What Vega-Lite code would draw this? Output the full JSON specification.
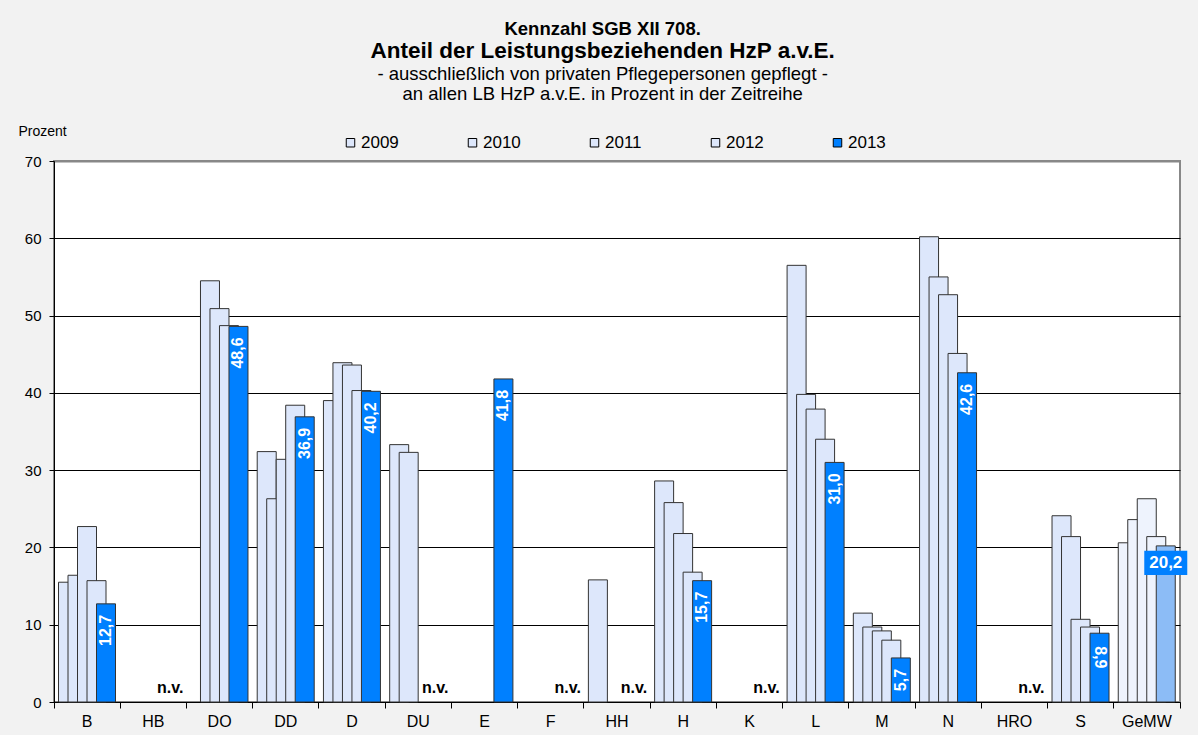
{
  "$schema": "https://vega.github.io/schema/vega-lite/v6.json",
  "background": "#f2f2f2",
  "padding": {"left": 17, "top": 19, "right": 10, "bottom": 5},
  "config": {
    "locale": {"number": {"decimal": ",", "thousands": ".", "grouping": [3], "currency": ["", " €"]}},
    "font": "Liberation Sans",
    "view": {"stroke": null}
  },
  "title": {"text": "Kennzahl SGB XII 708.", "fontSize": 18.5, "fontWeight": "bold", "anchor": "middle", "frame": "bounds", "offset": 1, "color": "black"},
  "vconcat": [
    {
      "width": 1126,
      "height": 541,
      "title": {
        "text": "Anteil der Leistungsbeziehenden HzP a.v.E.",
        "subtitle": ["- ausschließlich von privaten Pflegepersonen gepflegt -", "an allen LB HzP a.v.E. in Prozent in der Zeitreihe"],
        "fontSize": 22.5, "fontWeight": "bold", "subtitleFontSize": 18.5, "subtitleLineHeight": 20, "subtitlePadding": 2,
        "anchor": "middle", "frame": "bounds", "offset": 21, "color": "black", "subtitleColor": "black"
      },
      "view": {"fill": "white", "stroke": "#888888", "strokeWidth": 2},
      "data": {"values": [
        {"region": "B", "year": "2009", "value": 15.5},
        {"region": "B", "year": "2010", "value": 16.4},
        {"region": "B", "year": "2011", "value": 22.7},
        {"region": "B", "year": "2012", "value": 15.7},
        {"region": "B", "year": "2013", "value": 12.7},
        {"region": "HB", "year": "2013", "value": null},
        {"region": "DO", "year": "2010", "value": 54.5},
        {"region": "DO", "year": "2011", "value": 50.9},
        {"region": "DO", "year": "2012", "value": 48.7},
        {"region": "DO", "year": "2013", "value": 48.6},
        {"region": "DD", "year": "2009", "value": 32.4},
        {"region": "DD", "year": "2010", "value": 26.3},
        {"region": "DD", "year": "2011", "value": 31.4},
        {"region": "DD", "year": "2012", "value": 38.4},
        {"region": "DD", "year": "2013", "value": 36.9},
        {"region": "D", "year": "2009", "value": 39.0},
        {"region": "D", "year": "2010", "value": 43.9},
        {"region": "D", "year": "2011", "value": 43.6},
        {"region": "D", "year": "2012", "value": 40.3},
        {"region": "D", "year": "2013", "value": 40.2},
        {"region": "DU", "year": "2009", "value": 33.3},
        {"region": "DU", "year": "2010", "value": 32.3},
        {"region": "DU", "year": "2013", "value": null},
        {"region": "E", "year": "2013", "value": 41.8},
        {"region": "F", "year": "2013", "value": null},
        {"region": "HH", "year": "2009", "value": 15.8},
        {"region": "HH", "year": "2013", "value": null},
        {"region": "H", "year": "2009", "value": 28.6},
        {"region": "H", "year": "2010", "value": 25.8},
        {"region": "H", "year": "2011", "value": 21.8},
        {"region": "H", "year": "2012", "value": 16.8},
        {"region": "H", "year": "2013", "value": 15.7},
        {"region": "K", "year": "2013", "value": null},
        {"region": "L", "year": "2009", "value": 56.5},
        {"region": "L", "year": "2010", "value": 39.8},
        {"region": "L", "year": "2011", "value": 37.9},
        {"region": "L", "year": "2012", "value": 34.0},
        {"region": "L", "year": "2013", "value": 31.0},
        {"region": "M", "year": "2009", "value": 11.5},
        {"region": "M", "year": "2010", "value": 9.7},
        {"region": "M", "year": "2011", "value": 9.2},
        {"region": "M", "year": "2012", "value": 8.0},
        {"region": "M", "year": "2013", "value": 5.7},
        {"region": "N", "year": "2009", "value": 60.2},
        {"region": "N", "year": "2010", "value": 55.0},
        {"region": "N", "year": "2011", "value": 52.7},
        {"region": "N", "year": "2012", "value": 45.1},
        {"region": "N", "year": "2013", "value": 42.6},
        {"region": "HRO", "year": "2013", "value": null},
        {"region": "S", "year": "2009", "value": 24.1},
        {"region": "S", "year": "2010", "value": 21.4},
        {"region": "S", "year": "2011", "value": 10.7},
        {"region": "S", "year": "2012", "value": 9.7},
        {"region": "S", "year": "2013", "value": 8.9},
        {"region": "GeMW", "year": "2009", "value": 20.6},
        {"region": "GeMW", "year": "2010", "value": 23.6},
        {"region": "GeMW", "year": "2011", "value": 26.3},
        {"region": "GeMW", "year": "2012", "value": 21.4},
        {"region": "GeMW", "year": "2013", "value": 20.2}
      ]},
      "encoding": {
        "x": {
          "field": "region", "type": "nominal",
          "scale": {"domain": ["B", "HB", "DO", "DD", "D", "DU", "E", "F", "HH", "H", "K", "L", "M", "N", "HRO", "S", "GeMW"], "paddingInner": 0, "paddingOuter": 0},
          "axis": {"title": null, "labelAngle": 0, "bandPosition": 1, "tickExtra": true, "domainColor": "black", "tickColor": "black", "tickSize": 6, "labelFontSize": 16, "labelColor": "black", "labelPadding": 5, "grid": false}
        }
      },
      "layer": [
        {
          "mark": {"type": "bar", "width": 19, "stroke": "#333333", "strokeWidth": 1},
          "encoding": {
            "xOffset": {"field": "year", "type": "nominal", "scale": {"range": [9.25, 56.75]}},
            "y": {
              "field": "value", "type": "quantitative",
              "scale": {"domain": [0, 70], "nice": false},
              "axis": {
                "title": "Prozent", "titleAngle": 0, "titleAlign": "left", "titleBaseline": "middle", "titleX": -36, "titleY": -30,
                "titleFontWeight": "normal", "titleFontSize": 14, "titleColor": "black",
                "values": [0, 10, 20, 30, 40, 50, 60, 70], "grid": true,
                "gridColor": {"condition": {"test": "datum.value === 70", "value": "#888888"}, "value": "black"},
                "gridWidth": {"condition": {"test": "datum.value === 70", "value": 2}, "value": 1},
                "domainColor": "black", "tickColor": "black", "tickSize": 5, "labelFontSize": 15, "labelColor": "black", "labelPadding": 8
              }
            },
            "fill": {
              "condition": [
                {"test": "datum.region === 'GeMW' && datum.year === '2013'", "value": "#8cbcf6"},
                {"test": "datum.region === 'GeMW'", "value": "#eef3fd"}
              ],
              "field": "year", "type": "nominal",
              "scale": {"domain": ["2009", "2010", "2011", "2012", "2013"], "range": ["#dde7fb", "#dde7fb", "#dde7fb", "#dde7fb", "#0080ff"]},
              "legend": {
                "title": null, "orient": "none", "legendX": 288, "legendY": -27, "direction": "horizontal", "columns": 5, "columnPadding": 65,
                "symbolType": "square", "symbolSize": 72, "symbolStrokeColor": "black", "symbolStrokeWidth": 1, "labelFontSize": 17, "labelColor": "black", "labelOffset": 2
              }
            }
          }
        },
        {
          "transform": [{"filter": "datum.year === '2013' && isValid(datum.value) && datum.region !== 'GeMW' && datum.region !== 'S'"}],
          "mark": {"type": "text", "angle": 270, "align": "right", "baseline": "middle", "dx": -11, "color": "white", "fontWeight": "bold", "fontSize": 16},
          "encoding": {
            "xOffset": {"field": "year", "type": "nominal"},
            "y": {"field": "value", "type": "quantitative"},
            "text": {"field": "value", "type": "quantitative", "format": ".1f"}
          }
        },
        {
          "transform": [{"filter": "datum.year === '2013' && datum.region === 'S'"}],
          "mark": {"type": "text", "angle": 90, "align": "left", "baseline": "middle", "dx": 13, "color": "white", "fontWeight": "bold", "fontSize": 16},
          "encoding": {
            "xOffset": {"field": "year", "type": "nominal"},
            "y": {"field": "value", "type": "quantitative"},
            "text": {"field": "value", "type": "quantitative", "format": ".1f"}
          }
        },
        {
          "transform": [{"filter": "datum.year === '2013' && datum.region === 'GeMW'"}],
          "mark": {"type": "point", "shape": "M-1,-0.56H1V0.56H-1Z", "filled": true, "fill": "#0080ff", "opacity": 1, "size": 1849, "strokeWidth": 0},
          "encoding": {
            "xOffset": {"field": "year", "type": "nominal"},
            "y": {"field": "value", "type": "quantitative"},
            "yOffset": {"value": 17}
          }
        },
        {
          "transform": [{"filter": "datum.year === '2013' && datum.region === 'GeMW'"}],
          "mark": {"type": "text", "align": "center", "baseline": "middle", "dy": 17, "color": "white", "fontWeight": "bold", "fontSize": 17},
          "encoding": {
            "xOffset": {"field": "year", "type": "nominal"},
            "y": {"field": "value", "type": "quantitative"},
            "text": {"field": "value", "type": "quantitative", "format": ".1f"}
          }
        },
        {
          "transform": [{"filter": "datum.year === '2013' && !isValid(datum.value)"}],
          "mark": {"type": "text", "align": "right", "baseline": "alphabetic", "dx": -3, "dy": -9, "color": "black", "fontWeight": "bold", "fontSize": 16},
          "encoding": {
            "x": {"field": "region", "type": "nominal", "bandPosition": 1},
            "y": {"datum": 0},
            "text": {"value": "n.v."}
          }
        }
      ]
    }
  ]
}
